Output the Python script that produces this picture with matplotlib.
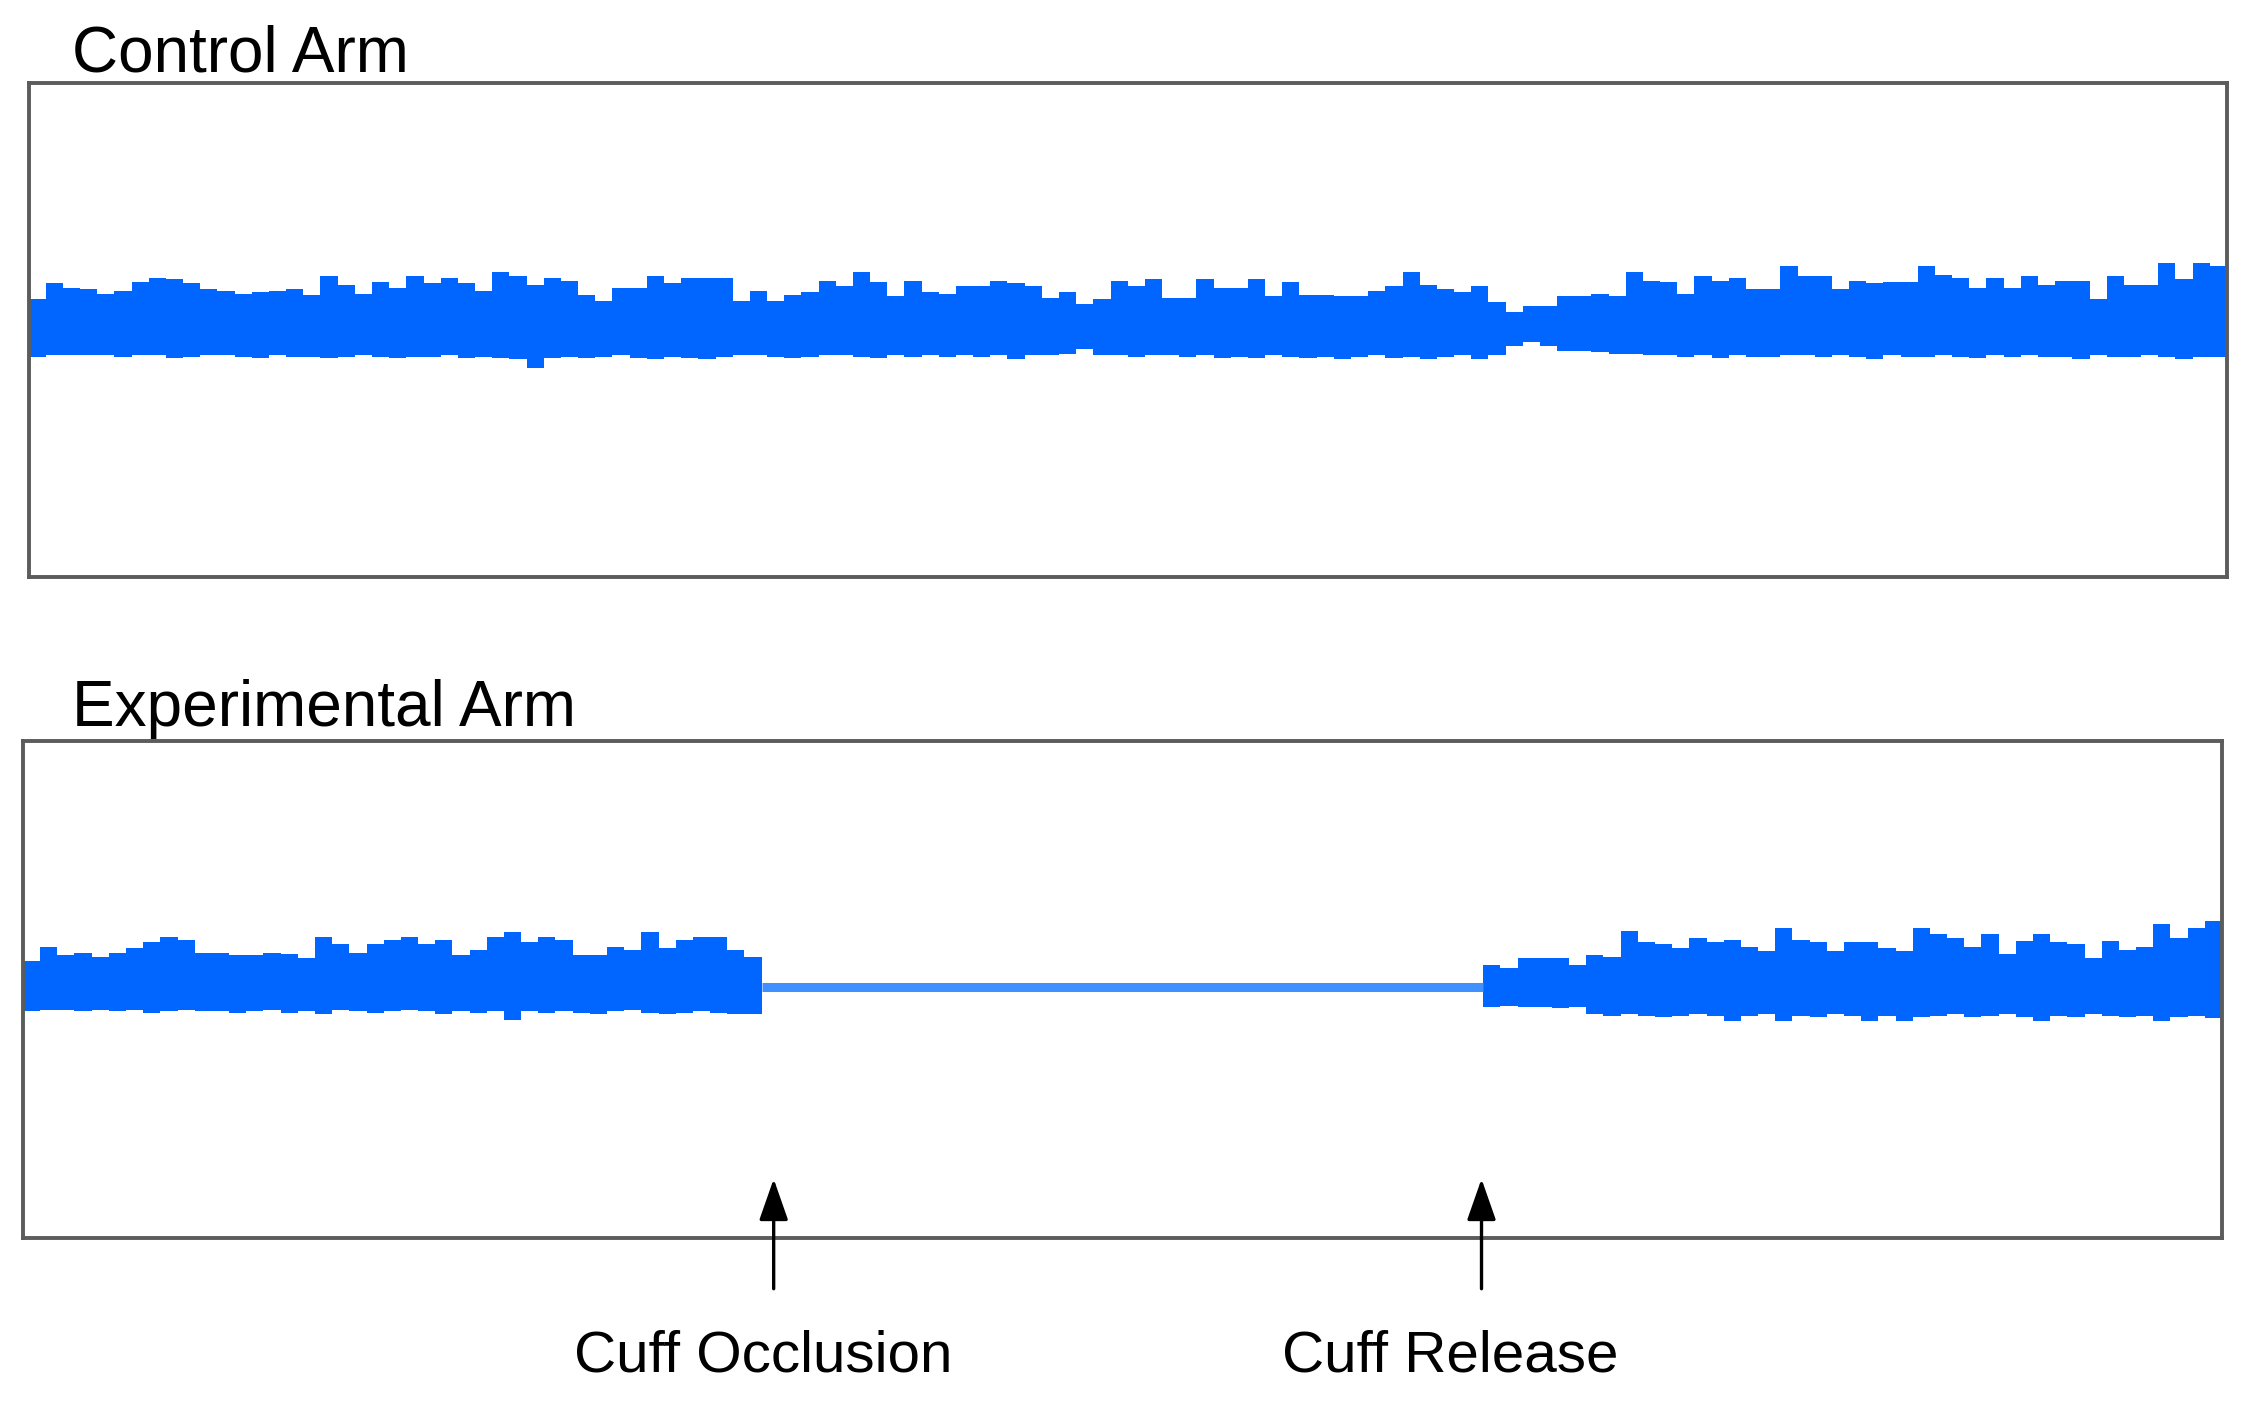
import numpy as np
import matplotlib
matplotlib.use("Agg")
import matplotlib.pyplot as plt

# ----------------------------------------------------
# Envelope of the blood-flow signal (offset from baseline, arbitrary units)
# one value per time bin
# ----------------------------------------------------
control_upper = [18, 29, 26, 25, 22, 24, 30, 33, 32, 29, 25, 24, 22, 23, 24, 25, 21, 34, 28, 22,
                 30, 26, 34, 29, 33, 29, 24, 37, 34, 28, 33, 31, 21, 17, 26, 26, 34, 29, 33, 33,
                 33, 17, 24, 17, 21,
                 23, 31, 27, 37, 30, 20, 31, 23, 22, 27, 27, 31, 29, 27, 19, 23, 15, 18, 31, 27,
                 32, 19, 19, 32, 26, 26, 32, 20, 30, 21, 21, 20, 20, 24, 27, 37, 28, 25, 23, 27,
                 16, 9, 13, 13, 20, 20,
                 22, 20, 37, 31, 30, 22, 34, 31, 33, 25, 25, 41, 34, 34, 25, 31, 29, 30, 30, 41,
                 35, 33, 26, 33, 26, 34, 28, 31, 31, 18, 34, 28, 28, 43, 32, 43, 41]
control_lower = [-22, -21, -21, -21, -21, -22, -21, -21, -23, -22, -21, -21, -22, -23, -21, -22,
                 -22, -23, -22, -21, -22, -23, -22, -22, -21, -23, -22, -23, -24, -30, -23, -22,
                 -23, -22, -21, -23, -24, -22, -23, -24, -22, -21, -21, -22, -23,
                 -22, -21, -21, -22, -23, -21, -22, -21, -22, -21, -22, -21, -24, -21, -21, -20,
                 -17, -21, -21, -22, -21, -21, -22, -21, -23, -22, -23, -21, -22, -23, -22, -24,
                 -22, -21, -23, -22, -24, -22, -21, -24, -21, -15, -12, -15, -18, -18,
                 -19, -20, -20, -21, -21, -22, -21, -23, -21, -22, -22, -21, -21, -22, -21, -22,
                 -24, -21, -22, -22, -21, -22, -23, -21, -22, -21, -22, -22, -24, -21, -22, -22,
                 -21, -22, -24, -22, -22]

# experimental arm: before cuff occlusion, during occlusion (flat), after release
exp_pre_upper = [18, 28, 22, 24, 21, 24, 27, 31, 35, 33, 24, 24, 22, 22, 24, 23, 20, 35, 30, 24,
                 30, 33, 35, 30, 33, 22, 26, 35, 38, 31, 35, 33, 22, 22, 28, 26, 38, 27, 33, 35,
                 35, 26, 21]
exp_pre_lower = [-17, -16, -16, -17, -16, -17, -16, -18, -17, -16, -17, -17, -18, -17, -16, -18,
                 -17, -19, -16, -17, -18, -17, -16, -17, -19, -17, -18, -17, -23, -17, -18, -17,
                 -18, -19, -17, -16, -18, -19, -18, -17, -18, -19, -19]
occlusion_bins = 42
occlusion_level = 0
exp_post_upper = [15, 13, 20, 20, 20, 15, 22, 21, 39, 31, 30, 27, 34, 31, 33, 28, 25, 41, 33, 31,
                  25, 31, 31, 27, 25, 41, 37, 34, 28, 37, 23, 32, 37, 31, 30, 20, 32, 26, 28, 44,
                  34, 41, 46]
exp_post_lower = [-14, -13, -14, -14, -15, -14, -19, -20, -19, -20, -21, -20, -19, -20, -24, -20,
                  -19, -24, -20, -21, -19, -20, -24, -20, -24, -21, -20, -19, -21, -20, -19, -21,
                  -24, -20, -21, -19, -20, -21, -20, -24, -21, -20, -22]

events = ["Cuff Occlusion", "Cuff Release"]
event_times = [43.7, 84.9]

BLUE = "#0066FF"
LIGHT_BLUE = "#4090FF"
FONT = ["Liberation Sans", "DejaVu Sans"]


def band(ax, x0, upper, lower, color=BLUE):
    n = len(upper)
    x = np.arange(x0, x0 + n + 1)
    up = np.append(upper, upper[-1])
    lo = np.append(lower, lower[-1])
    ax.fill_between(x, lo, up, step="post", color=color, linewidth=0)


def style_box(ax):
    ax.set_xticks([])
    ax.set_yticks([])
    for s in ax.spines.values():
        s.set_color("#5c5c5c")
        s.set_linewidth(2.8)


fig = plt.figure(figsize=(22.46, 14.02), dpi=100)

# ----------------------------------------------------
# Control arm
# ----------------------------------------------------
ax1 = fig.add_axes([0.0127, 0.5884, 0.9788, 0.3524])
band(ax1, 0, control_upper, control_lower)
ax1.set_xlim(0, len(control_upper))
ax1.set_ylim(-176, 169)
style_box(ax1)
fig.text(0.0319, 0.949, "Control Arm", fontsize=46, family=FONT, va="baseline", ha="left")

# ----------------------------------------------------
# Experimental arm
# ----------------------------------------------------
ax2 = fig.add_axes([0.0102, 0.1173, 0.9791, 0.3545])
n_pre = len(exp_pre_upper)
band(ax2, 0, exp_pre_upper, exp_pre_lower)
ax2.plot([n_pre, n_pre + occlusion_bins], [occlusion_level, occlusion_level],
         color=LIGHT_BLUE, lw=6.5, solid_capstyle="butt")
band(ax2, n_pre + occlusion_bins, exp_post_upper, exp_post_lower)
ax2.set_xlim(0, n_pre + occlusion_bins + len(exp_post_upper))
ax2.set_ylim(-175, 172)
style_box(ax2)
fig.text(0.0319, 0.482, "Experimental Arm", fontsize=46, family=FONT, va="baseline", ha="left")

# arrows marking cuff occlusion / release
for t in event_times:
    ax2.annotate("", xy=(t, 0.118), xytext=(t, -0.103),
                 xycoords=("data", "axes fraction"), textcoords=("data", "axes fraction"),
                 arrowprops=dict(arrowstyle="-|>,head_length=0.8,head_width=0.28",
                                 color="black", lw=2.4, mutation_scale=32,
                                 shrinkA=0, shrinkB=0),
                 annotation_clip=False)

label_x = [0.3397, 0.6456]
for name, lx in zip(events, label_x):
    fig.text(lx, 0.0221, name, fontsize=42, family=FONT, ha="center", va="baseline")

fig.savefig("out.png", dpi=100)
